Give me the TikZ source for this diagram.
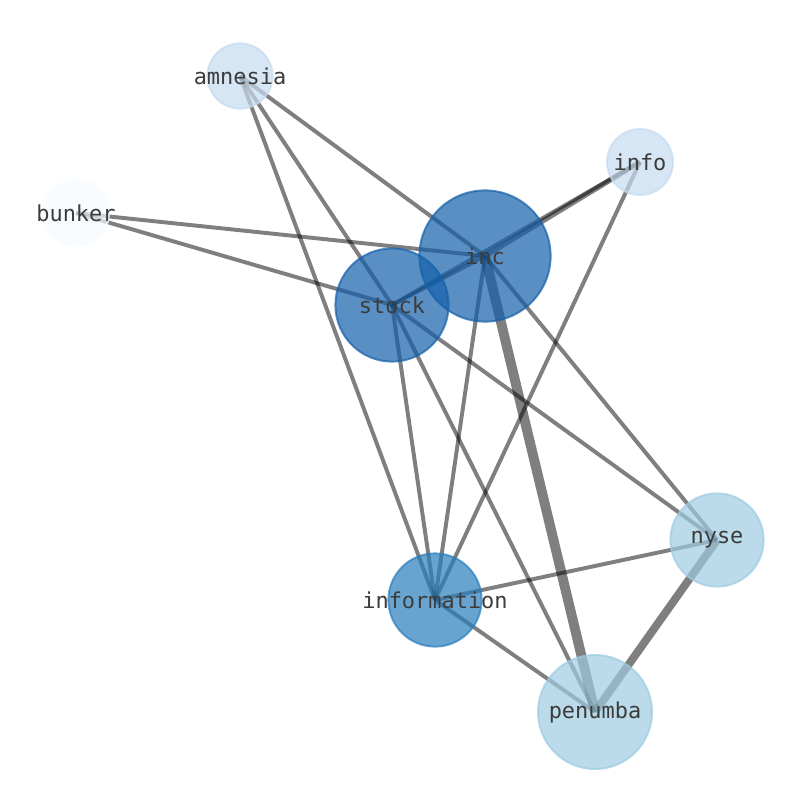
\documentclass[tikz,border=0pt]{standalone}
\usepackage{fontspec}
\setmonofont{DejaVu Sans Mono}
\usetikzlibrary{backgrounds}
\definecolor{hubblue}{RGB}{20,95,170}
\definecolor{midblue}{RGB}{41,126,188}
\definecolor{lightblue}{RGB}{158,202,225}
\definecolor{paleblue}{RGB}{198,219,239}
\definecolor{whiteblue}{RGB}{247,251,255}
\definecolor{labelgray}{RGB}{60,60,60}
\begin{document}
\begin{tikzpicture}[x=0.025cm,y=-0.025cm,
    vertex/.style={circle, inner sep=0pt, line width=1.4pt, fill opacity=0.7, draw opacity=0.7},
    word/.style={label={[text=labelgray, font=\ttfamily\fontsize{15.6}{18}\selectfont]center:#1}},
    link/.style={draw=black, draw opacity=0.5, line width=2.8pt}]
    \useasboundingbox (0,0) rectangle (794,790);
    \node [vertex, minimum size=1.63cm, fill=paleblue, draw=paleblue, word=amnesia] (amnesia) at (240,76) {};
    \node [vertex, minimum size=1.65cm, fill=paleblue, draw=paleblue, word=info] (info) at (640,162) {};
    \node [vertex, minimum size=1.65cm, fill=whiteblue, draw=whiteblue, word=bunker] (bunker) at (76,213) {};
    \node [vertex, minimum size=3.28cm, fill=hubblue, draw=hubblue, word=inc] (inc) at (485,256) {};
    \node [vertex, minimum size=2.83cm, fill=hubblue, draw=hubblue, word=stock] (stock) at (392,305) {};
    \node [vertex, minimum size=2.33cm, fill=lightblue, draw=lightblue, word=nyse] (nyse) at (717,540) {};
    \node [vertex, minimum size=2.33cm, fill=midblue, draw=midblue, word=information] (information) at (435,600) {};
    \node [vertex, minimum size=2.85cm, fill=lightblue, draw=lightblue, word=penumba] (penumba) at (595,712) {};
    \begin{scope}[on background layer]
        \draw [link] (amnesia.center) -- (inc.center);
        \draw [link] (amnesia.center) -- (stock.center);
        \draw [link] (amnesia.center) -- (information.center);
        \draw [link] (bunker.center) -- (inc.center);
        \draw [link] (bunker.center) -- (stock.center);
        \draw [link, line width=3.6pt] (info.center) -- (inc.center);
        \draw [link] (info.center) -- (stock.center);
        \draw [link] (info.center) -- (information.center);
        \draw [link] (inc.center) -- (stock.center);
        \draw [link] (inc.center) -- (nyse.center);
        \draw [link] (inc.center) -- (information.center);
        \draw [link, line width=7pt] (inc.center) -- (penumba.center);
        \draw [link] (stock.center) -- (nyse.center);
        \draw [link] (stock.center) -- (information.center);
        \draw [link] (stock.center) -- (penumba.center);
        \draw [link] (information.center) -- (nyse.center);
        \draw [link] (information.center) -- (penumba.center);
        \draw [link, line width=5.7pt] (nyse.center) -- (penumba.center);
    \end{scope}
\end{tikzpicture}
\end{document}
